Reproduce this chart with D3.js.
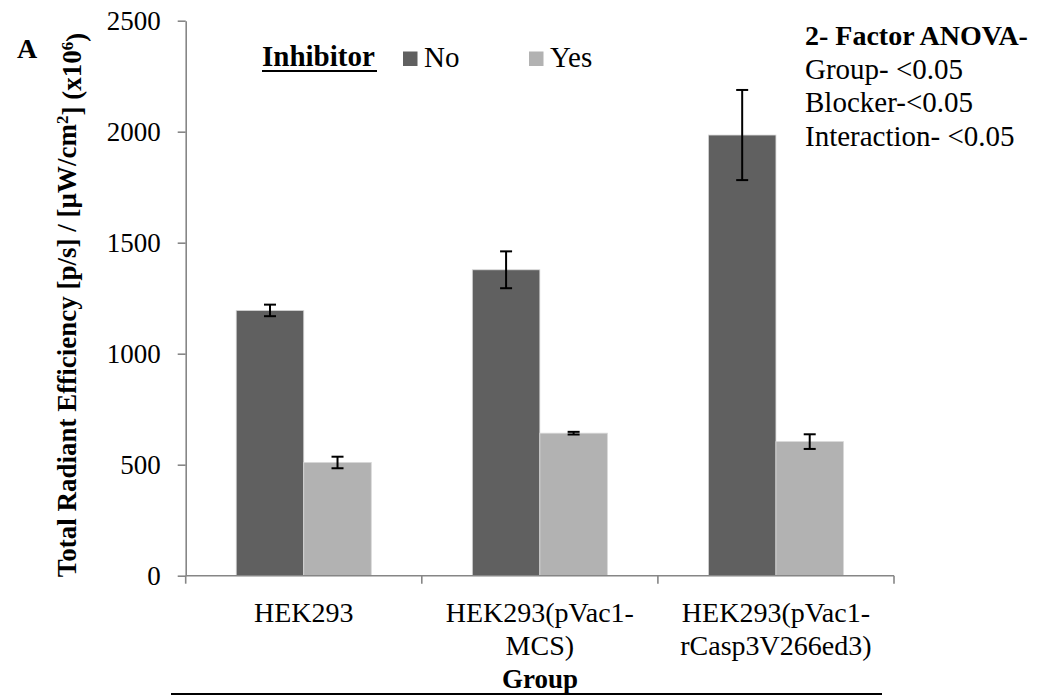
<!DOCTYPE html>
<html>
<head>
<meta charset="utf-8">
<script src="https://cdn.jsdelivr.net/npm/d3@7"></script>
<style>
  html, body { margin: 0; padding: 0; background: #fff; }
</style>
</head>
<body>
<svg id="chart" width="1049" height="696" font-family="Liberation Serif"></svg>
<script>
// Groups on the x axis and their multi-line labels
const groups = ["HEK293", "HEK293(pVac1-MCS)", "HEK293(pVac1-rCasp3V266ed3)"];
const groupLabelLines = [["HEK293"], ["HEK293(pVac1-", "MCS)"], ["HEK293(pVac1-", "rCasp3V266ed3)"]];
// Inhibitor series
const seriesNames = ["No", "Yes"];
const seriesColors = ["#606060", "#b2b2b2"];
// Means and error (±) for each series, per group
const valuesNo = [1195, 1378, 1985];
const valuesYes = [510, 642, 604];
const errorsNo = [26, 83, 203];
const errorsYes = [26, 6, 33];
// Y axis ticks
const yTicks = [0, 500, 1000, 1500, 2000, 2500];
// Statistics note
const anovaTitle = "2- Factor ANOVA-";
const anovaLines = ["Group- <0.05", "Blocker-<0.05", "Interaction- <0.05"];

const svg = d3.select("#chart");
const axisColor = "#868686";

// Text helper: serif face, size and weight
function txt(sel, size, bold) {
  return sel.attr("font-family", "Liberation Serif")
    .style("font-family", "Liberation Serif")
    .style("font-size", size + "px")
    .style("font-weight", bold ? "bold" : "normal")
    .attr("fill", "#000");
}

const y = d3.scaleLinear().domain([0, 2500]).range([575.7, 20.7]);
const x0 = d3.scaleBand().domain(groups).range([185.7, 894]).padding(0);
const x1 = d3.scaleBand().domain(seriesNames).range([0, x0.bandwidth()])
  .paddingInner(0).paddingOuter(0.748);

const rows = groups.map((g, i) => ({
  group: g,
  items: [
    { series: "No", value: valuesNo[i], err: errorsNo[i], color: seriesColors[0] },
    { series: "Yes", value: valuesYes[i], err: errorsYes[i], color: seriesColors[1] }
  ]
}));

// Bars
const gGroups = svg.append("g").selectAll("g").data(rows).join("g")
  .attr("transform", d => `translate(${x0(d.group)},0)`);

gGroups.selectAll("rect").data(d => d.items).join("rect")
  .attr("x", d => x1(d.series))
  .attr("width", x1.bandwidth())
  .attr("y", d => y(d.value))
  .attr("height", d => y(0) - y(d.value))
  .attr("fill", d => d.color)
  .attr("stroke", "#d8d8d8")
  .attr("stroke-width", 0.8);

// Error bars (mean ± error)
const eb = gGroups.selectAll("g.err").data(d => d.items).join("g").attr("class", "err");
const cx = d => x1(d.series) + x1.bandwidth() / 2;
eb.append("line")
  .attr("x1", cx).attr("x2", cx)
  .attr("y1", d => y(d.value + d.err)).attr("y2", d => y(d.value - d.err))
  .attr("stroke", "#000").attr("stroke-width", 2);
eb.append("line")
  .attr("x1", d => cx(d) - 6).attr("x2", d => cx(d) + 6)
  .attr("y1", d => y(d.value + d.err)).attr("y2", d => y(d.value + d.err))
  .attr("stroke", "#000").attr("stroke-width", 2);
eb.append("line")
  .attr("x1", d => cx(d) - 6).attr("x2", d => cx(d) + 6)
  .attr("y1", d => y(d.value - d.err)).attr("y2", d => y(d.value - d.err))
  .attr("stroke", "#000").attr("stroke-width", 2);

// Y axis
const yAxis = svg.append("g")
  .attr("transform", `translate(${x0.range()[0]},0)`)
  .call(d3.axisLeft(y).tickValues(yTicks).tickSize(8).tickSizeOuter(0).tickPadding(17)
    .tickFormat(d3.format("d")));
yAxis.attr("font-family", "Liberation Serif").attr("font-size", 27);
yAxis.select(".domain").attr("stroke", axisColor).attr("stroke-width", 1.6);
yAxis.selectAll(".tick line").attr("stroke", axisColor).attr("stroke-width", 1.6);
txt(yAxis.selectAll(".tick text"), 27, false).attr("dy", "0.34em");

// X axis line and category boundary ticks
const xAxis = svg.append("g");
xAxis.append("line")
  .attr("x1", x0.range()[0]).attr("x2", x0.range()[1])
  .attr("y1", y(0)).attr("y2", y(0))
  .attr("stroke", axisColor).attr("stroke-width", 1.6);
const boundaries = groups.map(g => x0(g)).concat([x0.range()[1]]);
xAxis.selectAll("line.b").data(boundaries).join("line").attr("class", "b")
  .attr("x1", d => d).attr("x2", d => d)
  .attr("y1", y(0)).attr("y2", y(0) + 8)
  .attr("stroke", axisColor).attr("stroke-width", 1.6);

// Category labels
groups.forEach((g, i) => {
  groupLabelLines[i].forEach((line, j) => {
    txt(svg.append("text"), 28, false)
      .attr("text-anchor", "middle")
      .attr("x", x0(g) + x0.bandwidth() / 2)
      .attr("y", 622 + j * 33)
      .text(line);
  });
});

// X axis title with rule below
txt(svg.append("text"), 27, true)
  .attr("x", 540).attr("y", 688).attr("text-anchor", "middle")
  .text("Group");
svg.append("line")
  .attr("x1", 171).attr("x2", 882).attr("y1", 694).attr("y2", 694)
  .attr("stroke", "#000").attr("stroke-width", 2);

// Y axis title
const yTitle = txt(svg.append("text"), 27, true)
  .attr("transform", "translate(76,305) rotate(-90)")
  .attr("text-anchor", "middle");
yTitle.append("tspan").text("Total Radiant Efficiency [p/s] / [µW/cm");
yTitle.append("tspan").attr("dy", "-0.45em").style("font-size", "17px").text("2");
yTitle.append("tspan").attr("dy", "0.45em").text("] (x10");
yTitle.append("tspan").attr("dy", "-0.45em").style("font-size", "17px").text("6");
yTitle.append("tspan").attr("dy", "0.45em").text(")");

// Panel letter
txt(svg.append("text"), 28, true).attr("x", 17).attr("y", 58).text("A");

// Legend
txt(svg.append("text"), 29, true).attr("x", 262).attr("y", 66).text("Inhibitor");
svg.append("line").attr("x1", 262).attr("x2", 377).attr("y1", 71).attr("y2", 71)
  .attr("stroke", "#000").attr("stroke-width", 2);
const legendX = [403, 529];
seriesNames.forEach((s, i) => {
  svg.append("rect").attr("x", legendX[i]).attr("y", 51.5)
    .attr("width", 14.5).attr("height", 14.5).attr("fill", seriesColors[i]);
  txt(svg.append("text"), 29, false).attr("x", legendX[i] + 21).attr("y", 66.5).text(s);
});

// ANOVA note
txt(svg.append("text"), 28, true).attr("x", 805).attr("y", 45).text(anovaTitle);
anovaLines.forEach((l, i) => {
  txt(svg.append("text"), 29, false).attr("x", 805).attr("y", 78.5 + i * 33.5).text(l);
});
</script>
</body>
</html>
